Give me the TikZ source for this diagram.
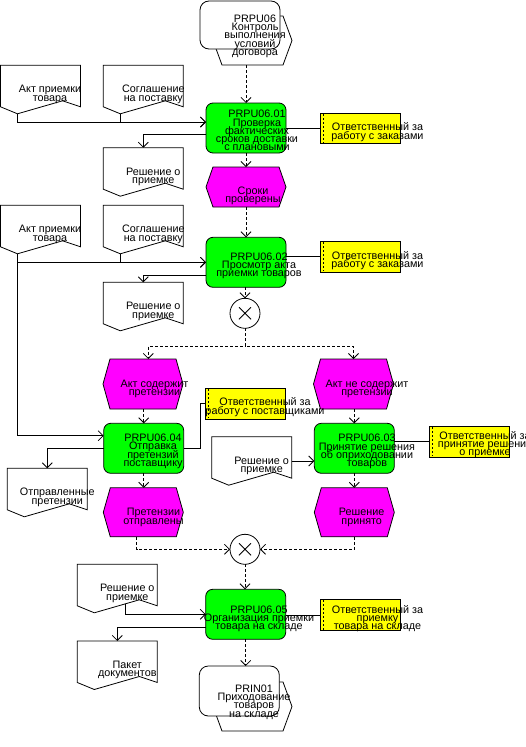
\documentclass[tikz,border=0pt]{standalone}
\usepackage{fontspec}
\setmainfont{Liberation Sans}
\usetikzlibrary{arrows.meta,calc}
\definecolor{fngreen}{RGB}{0,255,0}
\definecolor{evmag}{RGB}{255,0,255}
\definecolor{orgyel}{RGB}{255,255,0}
\newcommand\difont{\fontsize{10.8}{8.3}\selectfont\lineskiplimit=-20pt\relax}
\tikzset{
 box/.style={inner sep=0, outer sep=0, minimum width=80, minimum height=50},
 fnbox/.style={box, draw, fill=fngreen, rounded corners=7pt},
 ifbox/.style={box, draw, fill=white, rounded corners=9pt},
 frame/.style={box, draw=none},
 docbox/.style={inner sep=0, outer sep=0, minimum width=80, minimum height=41.5, draw=none},
 orgbox/.style={inner sep=0, outer sep=0, minimum width=80.7, minimum height=30.5, draw, fill=orgyel},
 xorbox/.style={circle, draw, fill=white, minimum size=30, inner sep=0, outer sep=0},
 hexev/.style={draw, fill=evmag},
 hexif/.style={draw, fill=white},
 docline/.style={draw, fill=white},
 flow/.style={-{Straight Barb[length=5pt,width=10pt]}},
 ctl/.style={dash pattern=on 3pt off 2pt, -{Straight Barb[length=5pt,width=10pt]}},
 txt/.style={inner sep=0, outer sep=0, align=center, font=\difont},
}
\newcommand\hexshape[3]{\draw[#2] ($(#1.north west)+(#3,0)$) -- ($(#1.north east)+(-#3,0)$) -- (#1.east) -- ($(#1.south east)+(-#3,0)$) -- ($(#1.south west)+(#3,0)$) -- (#1.west) -- cycle;}
\newcommand\docshape[1]{\draw[docline] (#1.north west) -- (#1.north east) -- (#1.south east) -- ($(#1.south west)+(62,-6)$) -- ($(#1.south west)+(17,7)$) -- (#1.south west) -- cycle;
 \coordinate (#1p) at ($(#1.south west)+(17,7)$);}
\newcommand\orgline[1]{\draw[dash pattern=on 2pt off 2pt, line width=0.6pt] ($(#1.north west)+(3,1)$) -- ($(#1.south west)+(3,-1)$);}
\newcommand\xmark[1]{\draw ($(#1.center)+(-6,-6)$) -- ($(#1.center)+(6,6)$) ($(#1.center)+(-6,6)$) -- ($(#1.center)+(6,-6)$);}
\newcommand\mytext[4]{\node[txt, anchor=north] (#1) at (#2,#3-8.5) {\rule{0pt}{8.5pt}#4};}
\begin{document}
\begin{tikzpicture}[x=1pt,y=-1pt,line width=0.8pt]
\useasboundingbox (0,0) rectangle (525,747);
% process interfaces
\node[frame, minimum width=79, minimum height=49] (p0h) at (252.5,40.5) {};
\hexshape{p0h}{hexif}{9}
\node[ifbox, minimum height=48] (p0) at (240,25) {};
\node[frame, minimum width=79, minimum height=49] (p1h) at (252.5,706.5) {};
\hexshape{p1h}{hexif}{9}
\node[ifbox] (p1) at (239.3,691) {};
% functions
\node[fnbox] (f1) at (246,128) {};
\node[fnbox] (f2) at (246,262.3) {};
\node[fnbox] (f3) at (143.7,448.3) {};
\node[fnbox] (f4) at (354.3,448.3) {};
\node[fnbox] (f5) at (245.7,614.3) {};
% events
\node[frame, minimum height=40] (e1) at (246,187) {};
\node[frame] (e2) at (143,384) {};
\node[frame] (e3) at (353.5,384) {};
\node[frame, minimum height=49] (e4) at (143.3,512.3) {};
\node[frame, minimum height=49] (e5) at (354.3,512.3) {};
\hexshape{e1}{hexev}{7}
\hexshape{e2}{hexev}{7}
\hexshape{e3}{hexev}{7}
\hexshape{e4}{hexev}{7}
\hexshape{e5}{hexev}{7}
% org units
\node[orgbox] (o1) at (360.3,128.3) {};
\node[orgbox] (o2) at (360.3,256.7) {};
\node[orgbox, minimum width=80, minimum height=31] (o3) at (245.7,403.8) {};
\node[orgbox, minimum width=80, minimum height=31.3] (o4) at (469.3,441.7) {};
\node[orgbox, minimum height=31.4] (o5) at (360.3,615) {};
\orgline{o1}\orgline{o2}\orgline{o3}\orgline{o4}\orgline{o5}
% documents
\node[docbox, anchor=north west] (d1) at (0.5,65.3) {};
\node[docbox, anchor=north west] (d2) at (103.3,65.3) {};
\node[docbox, anchor=north west] (d3) at (103.3,147.7) {};
\node[docbox, anchor=north west] (d4) at (0.5,205.3) {};
\node[docbox, anchor=north west] (d5) at (103.3,205.3) {};
\node[docbox, anchor=north west] (d6) at (103.3,282.3) {};
\node[docbox, anchor=north west] (d7) at (7.3,468.3) {};
\node[docbox, anchor=north west] (d8) at (211.7,436.7) {};
\node[docbox, anchor=north west] (d9) at (77.3,564.3) {};
\node[docbox, anchor=north west] (d10) at (77.3,641) {};
\docshape{d1}\docshape{d2}\docshape{d3}\docshape{d4}\docshape{d5}
\docshape{d6}\docshape{d7}\docshape{d8}\docshape{d9}\docshape{d10}
\coordinate (d8o) at ($(d8.north east)+(0,24.3)$);
\coordinate (d9s) at ($(d9.south west)+(47.7,-1.9)$);
% XOR
\node[xorbox] (x1) at (245,313.3) {};
\node[xorbox] (x2) at (245,549.3) {};
\xmark{x1}\xmark{x2}
% connectors
\draw[ctl] (f1.north |- p0h.south) -- (f1.north);
\draw[flow] (d1p) |- ($(f1.north west)+(0,19)$);
\draw[flow] (d2p) |- ($(f1.north west)+(0,19)$);
\draw[flow] ($(f1.north west)+(0,31.3)$) -| (d3.north);
\draw (f1.east |- o1.west) -- (o1.west);
\draw[ctl] (f1.south) -- (e1.north);
\draw[ctl] (e1.south) -- (f2.north);
\draw[flow] (d4p) |- (f2.west);
\draw[flow] (d5p) |- (f2.west);
\draw[flow] (d4p) |- ($(f3.north west)+(0,12.4)$);
\draw[flow] ($(f2.north west)+(0,38)$) -| (d6.north);
\draw (f2.east |- o2.west) -- (o2.west);
\draw[ctl] (x1.north |- f2.south) -- (x1.north);
\draw[ctl] (x1.south) -- ++(0,17.7) -| ($(e2.north)+(5.3,0)$);
\draw[ctl] (x1.south) -- ++(0,17.7) -| (e3.north);
\draw[ctl] (f3.north |- e2.south) -- (f3.north);
\draw[ctl] (f4.north |- e3.south) -- (f4.north);
\draw[flow] (f3.west) -| (d7.north);
\draw (f3.east) -- ++(16.3,0) |- (o3.west);
\draw[flow] (d8o) -- (d8o -| f4.west);
\draw (f4.east |- o4.west) -- (o4.west);
\draw[ctl] (f3.south) -- (f3.south |- e4.north);
\draw[ctl] (f4.south) -- (f4.south |- e5.north);
\draw[ctl] ($(e4.south)+(-6.6,0)$) |- (x2.west);
\draw[ctl] (e5.south) |- (x2.east);
\draw[ctl] (x2.south) -- (x2.south |- f5.north);
\draw[flow] (d9s) |- (f5.west);
\draw[flow] ($(f5.north west)+(0,38)$) -| (d10.north);
\draw (f5.east |- o5.west) -- (o5.west);
\draw[ctl] (f5.south) -- (f5.south |- p1.north);
% texts
\mytext{tp0}{255}{22.3}{PRPU06\\Контроль\\выполнения\\условий\\договора}
\mytext{tf1}{257}{117.7}{PRPU06.01\\Проверка\\фактических\\сроков доставки\\с плановыми}
\mytext{to1}{377.5}{130.7}{Ответственный за\\работу с заказами}
\mytext{te1}{253}{194}{Сроки\\проверены}
\mytext{td1}{50}{92.8}{Акт приемки\\товара}
\mytext{td2}{153.3}{92.8}{Соглашение\\на поставку}
\mytext{td3}{153.3}{175.2}{Решение о\\приемке}
\mytext{td4}{50}{232.8}{Акт приемки\\товара}
\mytext{td5}{153.3}{232.8}{Соглашение\\на поставку}
\mytext{td6}{153.3}{309.8}{Решение о\\приемке}
\mytext{tf2}{259}{260}{PRPU06.02\\Просмотр акта\\приемки товаров}
\mytext{to2}{377.5}{259}{Ответственный за\\работу с заказами}
\mytext{te2}{154.5}{387.3}{Акт содержит\\претензии}
\mytext{te3}{367}{387.3}{Акт не содержит\\претензии}
\mytext{to3}{265}{405.7}{Ответственный за\\работу с поставщиками}
\mytext{tf3}{153}{441.5}{PRPU06.04\\Отправка\\претензий\\поставщику}
\mytext{tf4}{367}{441.7}{PRPU06.03\\Принятие решения\\об оприходовании\\товаров}
\mytext{to4}{485}{439}{Ответственный за\\принятие решения\\о приемке}
\mytext{td7}{57.3}{495.8}{Отправленные\\претензии}
\mytext{td8}{261.7}{464.2}{Решение о\\приемке}
\mytext{te4}{153.5}{515.7}{Претензии\\отправлены}
\mytext{te5}{361.7}{515.7}{Решение\\принято}
\mytext{td9}{127.3}{591.8}{Решение о\\приемке}
\mytext{tf5}{259}{613}{PRPU06.05\\Организация приемки\\товара на складе}
\mytext{to5}{377.5}{613.3}{Ответственный за\\приемку\\товара на складе}
\mytext{td10}{127.3}{668.5}{Пакет\\документов}
\mytext{tp1}{254}{692.3}{PRIN01\\Приходование\\товаров\\на складе}
\end{tikzpicture}
\end{document}
